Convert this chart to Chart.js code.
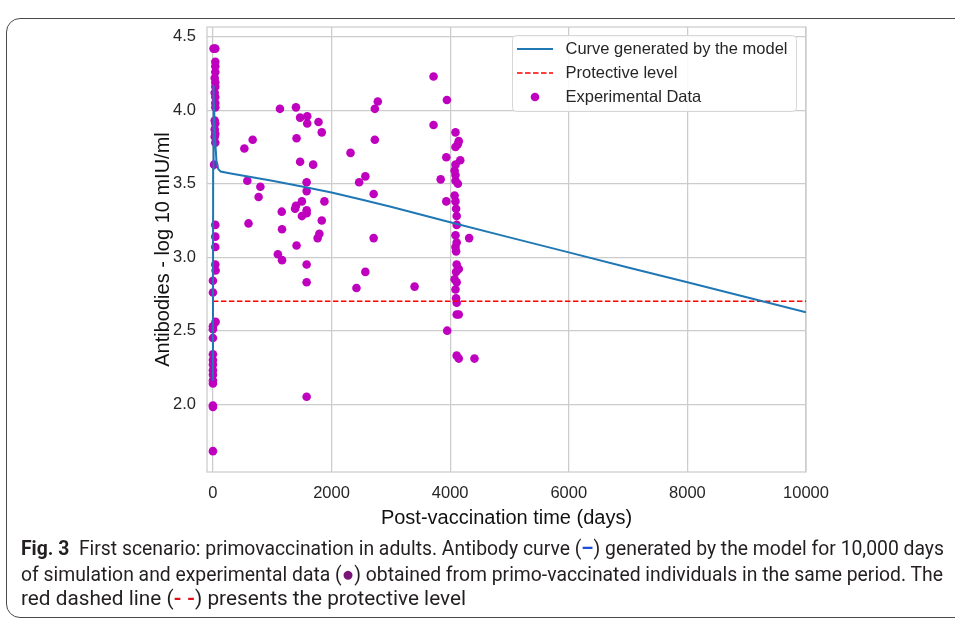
<!DOCTYPE html>
<html>
<head>
<meta charset="utf-8">
<title>Primovaccination in adults</title>
<script src="https://cdn.jsdelivr.net/npm/chart.js@4.4.1/dist/chart.umd.min.js"></script>
<style>
  html, body { margin: 0; padding: 0; background: #fff; }
  body { width: 955px; height: 620px; position: relative; overflow: hidden; }
  .panel {
    position: absolute; left: 6px; top: 18px; width: 1100px; height: 598px;
    border: 1.5px solid #4a4a4a; border-radius: 14px;
  }
  .chart-box { position: absolute; left: 0; top: 0; width: 955px; height: 545px; }
  .caption {
    position: absolute; left: 21px; top: 537px;
    font-family: 'Liberation Sans Narrow', 'Roboto', 'Liberation Sans', sans-serif;
    font-size: 19.5px; line-height: 24.5px; color: #231f20;
  }
  .caption .ln { display: block; white-space: nowrap; width: max-content; transform-origin: 0 50%; }
  .caption b { font-weight: bold; }
  .sym-line { color: #1f4fd8; font-weight: bold; }
  .sym-dot { color: #7a1479; font-size: 21px; }
  .sym-dash { color: #e0101a; font-weight: bold; }
</style>
</head>
<body>
<div class="panel"></div>
<div class="chart-box"><canvas id="chart" width="955" height="545"></canvas></div>
<div class="caption">
  <span class="ln" data-w="923"><b>Fig. 3</b>&nbsp; First scenario: primovaccination in adults. Antibody curve (<span class="sym-line">–</span>) generated by the model for 10,000 days</span>
  <span class="ln" data-w="922">of simulation and experimental data (<span class="sym-dot">●</span>) obtained from primo-vaccinated individuals in the same period. The</span>
  <span class="ln" data-w="445">red dashed line (<span class="sym-dash">-&nbsp;-</span>) presents the protective level</span>
</div>
<script>
// model curve (log10 mIU/ml over days after vaccination)
const modelDays = [0, 4, 8, 15, 25, 40, 60, 90, 130, 300, 1000, 1500, 2000, 2500, 3000, 4000, 5000, 6000, 7000, 8000, 9000, 10000];
const modelValues = [2.16, 3.6, 4.17, 4.1, 3.95, 3.78, 3.65, 3.6, 3.583, 3.57, 3.52, 3.482, 3.44, 3.393, 3.343, 3.238, 3.135, 3.033, 2.93, 2.83, 2.728, 2.626];

// protective threshold
const protectiveDays = [0, 10000];
const protectiveValues = [2.7, 2.7];

// measured antibody titres
const expDays = [
  10, 40, 40, 40, 40, 30, 40, 40, 30, 40, 40, 40, 30, 40, 30, 40, 30, 40, 20,
  40, 40, 40, 40, 45, 0, 0, 45, 0, 0, 0, 0, 0, 0, 0, 0, 0, 0, 0, 0, 0,
  1130, 1400, 1470, 1590, 1590, 1780, 1835, 670, 530, 1410, 1470, 1690, 580, 800, 770, 1580, 1580, 1880,
  1500, 1400, 1385, 1580, 1580, 1500, 1160, 600, 1835, 1165, 1795, 1765, 1410, 1095, 1165, 1580, 1580, 1580,
  2780, 2730, 2730, 2320, 2570, 2465, 2710, 2710, 2570, 2420, 3400,
  3720, 3945, 3720, 3935, 3840, 3935, 3950,
  4090, 4145, 4130, 4090, 4170, 4090, 4075, 4090, 4090, 4130, 4075, 4090, 4100, 4110, 4110, 4090, 4110,
  4090, 4100, 4110, 4145, 4100, 4075, 4110, 4090, 4100, 4110, 4110, 4145, 4110, 4145, 4320, 4410
];
const expValues = [
  4.42, 4.42, 4.33, 4.30, 4.26, 4.22, 4.19, 4.16, 4.12, 4.09, 4.05, 4.02, 3.93, 3.91, 3.87, 3.84, 3.82, 3.78, 3.63,
  3.22, 3.14, 3.07, 2.95, 2.91, 2.84, 2.76, 2.56, 2.53, 2.51, 2.45, 2.34, 2.30, 2.27, 2.23, 2.20, 2.16, 2.14, 1.99, 1.98, 1.68,
  4.01, 4.02, 3.95, 3.96, 3.91, 3.92, 3.85, 3.80, 3.74, 3.81, 3.65, 3.63, 3.52, 3.48, 3.41, 3.51, 3.45, 3.38,
  3.38, 3.35, 3.33, 3.32, 3.30, 3.28, 3.31, 3.23, 3.25, 3.19, 3.16, 3.13, 3.08, 3.02, 2.98, 2.95, 2.83, 2.05,
  4.06, 4.01, 3.80, 3.71, 3.55, 3.51, 3.43, 3.13, 2.90, 2.79, 2.80,
  4.23, 4.07, 3.90, 3.68, 3.53, 3.38, 2.50,
  3.85, 3.79, 3.77, 3.75, 3.66, 3.63, 3.59, 3.56, 3.52, 3.50, 3.42, 3.38, 3.33, 3.28, 3.22, 3.15, 3.10,
  3.07, 3.04, 2.95, 2.92, 2.90, 2.85, 2.83, 2.78, 2.72, 2.69, 2.61, 2.61, 2.33, 2.31, 3.13, 2.31
];

const xTicks = [0, 2000, 4000, 6000, 8000, 10000];
const yTicks = [2.0, 2.5, 3.0, 3.5, 4.0, 4.5];

const toPoints = (xs, ys) => xs.map((x, i) => ({ x, y: ys[i] }));

const FONT = 'Arial, "Liberation Sans", sans-serif';
const INK = '#262626';
const GRID = '#cccccc';

// light frame around the plotting area
const plotFrame = {
  id: 'plotFrame',
  beforeDatasetsDraw(chart) {
    const { ctx, chartArea: a } = chart;
    ctx.save();
    ctx.strokeStyle = GRID;
    ctx.lineWidth = 1.25;
    ctx.strokeRect(a.left, a.top, a.width, a.height);
    ctx.restore();
  }
};

// legend drawn inside the plot, upper right
const boxedLegend = {
  id: 'boxedLegend',
  afterDatasetsDraw(chart) {
    const { ctx, chartArea: a } = chart;
    const w = 284, h = 76;
    const x = a.right - 9.5 - w, y = a.top + 8.5;
    ctx.save();
    ctx.beginPath();
    ctx.roundRect(x, y, w, h, 4);
    ctx.fillStyle = 'rgba(255,255,255,0.85)';
    ctx.fill();
    ctx.strokeStyle = '#d6d6d6';
    ctx.lineWidth = 1;
    ctx.stroke();
    ctx.font = '16.5px ' + FONT;
    ctx.textBaseline = 'middle';
    chart.data.datasets.forEach((ds, i) => {
      const cy = y + 13.5 + i * 24;
      if (ds.showLine) {
        ctx.beginPath();
        ctx.strokeStyle = ds.borderColor;
        ctx.lineWidth = ds.borderWidth;
        ctx.setLineDash(ds.borderDash || []);
        ctx.moveTo(x + 4.5, cy);
        ctx.lineTo(x + 40.5, cy);
        ctx.stroke();
        ctx.setLineDash([]);
      } else {
        ctx.beginPath();
        ctx.fillStyle = ds.backgroundColor;
        ctx.arc(x + 22.5, cy, ds.pointRadius, 0, Math.PI * 2);
        ctx.fill();
      }
      ctx.fillStyle = INK;
      ctx.fillText(ds.label, x + 53, cy);
    });
    ctx.restore();
  }
};

new Chart(document.getElementById('chart'), {
  type: 'scatter',
  data: {
    datasets: [
      {
        label: 'Curve generated by the model',
        data: toPoints(modelDays, modelValues),
        showLine: true,
        borderColor: '#1f77b4',
        borderWidth: 2,
        pointRadius: 0,
        tension: 0
      },
      {
        label: 'Protective level',
        data: toPoints(protectiveDays, protectiveValues),
        showLine: true,
        borderColor: '#ff0000',
        borderWidth: 1.5,
        borderDash: [5.5, 2.5],
        pointRadius: 0
      },
      {
        label: 'Experimental Data',
        data: toPoints(expDays, expValues),
        showLine: false,
        backgroundColor: '#bf00bf',
        borderWidth: 0,
        pointRadius: 4.3
      }
    ]
  },
  options: {
    responsive: false,
    animation: false,
    layout: { padding: { left: 0, top: 27, right: 149, bottom: 0 } },
    plugins: {
      legend: { display: false },
      tooltip: { enabled: false }
    },
    scales: {
      x: {
        type: 'linear',
        min: -100,
        max: 10000,
        afterFit: scale => { scale.height = 73; },
        afterBuildTicks: scale => { scale.ticks = xTicks.map(value => ({ value })); },
        ticks: {
          includeBounds: false,
          padding: 12,
          color: INK,
          font: { family: FONT, size: 16.5 },
          callback: v => String(v)
        },
        grid: { color: GRID, lineWidth: 1.25, drawTicks: false },
        border: { display: false },
        title: {
          display: true,
          text: 'Post-vaccination time (days)',
          color: '#111',
          font: { family: FONT, size: 20 },
          padding: { top: 0, bottom: 15 }
        }
      },
      y: {
        type: 'linear',
        min: 1.538,
        max: 4.567,
        afterFit: scale => { scale.width = 207; },
        afterBuildTicks: scale => { scale.ticks = yTicks.map(value => ({ value })); },
        ticks: {
          includeBounds: false,
          padding: 11,
          color: INK,
          font: { family: FONT, size: 16.5 },
          callback: v => Number(v).toFixed(1)
        },
        grid: { color: GRID, lineWidth: 1.25, drawTicks: false },
        border: { display: false },
        title: {
          display: true,
          text: 'Antibodies - log 10 mIU/ml',
          color: '#111',
          font: { family: FONT, size: 20 },
          padding: { top: 151, bottom: 0 }
        }
      }
    }
  },
  plugins: [plotFrame, boxedLegend]
});

// stretch each caption line to the column width
document.querySelectorAll('.caption .ln').forEach(el => {
  const target = Number(el.dataset.w);
  const actual = el.getBoundingClientRect().width;
  el.style.transform = 'scaleX(' + (target / actual) + ')';
});
</script>
</body>
</html>
